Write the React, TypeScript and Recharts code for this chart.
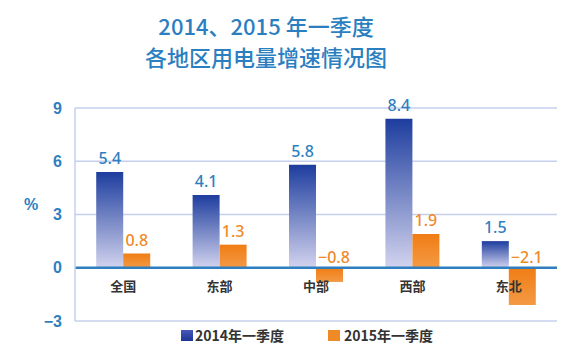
import React from 'react'
import {
  BarChart,
  Bar,
  XAxis,
  YAxis,
  CartesianGrid,
  ReferenceLine,
  LabelList,
} from 'recharts'

// 各地区用电量增速 (%)
const regions = ['全国', '东部', '中部', '西部', '东北']
const q1of2014 = [5.4, 4.1, 5.8, 8.4, 1.5]
const q1of2015 = [0.8, 1.3, -0.8, 1.9, -2.1]
const yTicks = [-3, 0, 3, 6, 9]
const seriesNames = ['2014年一季度', '2015年一季度']

const data = regions.map((name, i) => ({
  name,
  y2014: q1of2014[i],
  y2015: q1of2015[i],
}))

const BLUE_TEXT = '#2f7fc0'
const ORANGE_TEXT = '#ee8a2a'
const NUM_FONT = '"Liberation Sans", Arial, sans-serif'
const LABEL_FONT = '"Noto Sans", "Liberation Sans", sans-serif'
const CJK_FONT = '"Noto Sans CJK SC", "Noto Sans", sans-serif'

// 负数用长减号
const fmt = (v: number, digits = 1) => (v < 0 ? '\u2212' + Math.abs(v).toFixed(digits) : v.toFixed(digits))

function makeLabel(color: string) {
  return (props: any) => {
    const { x, y, width, height, value } = props
    const top = Math.min(y, y + height)
    const common = { fill: color, fontSize: 16, fontWeight: 500, fontFamily: LABEL_FONT }
    if (value < 0) {
      return (
        <text x={x + 2} y={top - 5} textAnchor='start' {...common}>
          {fmt(value)}
        </text>
      )
    }
    return (
      <text x={x + width / 2} y={top - 8} textAnchor='middle' {...common}>
        {fmt(value)}
      </text>
    )
  }
}

function RegionTick({ x, y, payload }: any) {
  return (
    <text x={x} y={y - 30} textAnchor='middle' fill='#333' fontSize={13} fontWeight={700} fontFamily={CJK_FONT}>
      {payload.value}
    </text>
  )
}

export default function App() {
  return (
    <div style={{ position: 'absolute', left: 0, top: 0, width: 582, height: 357, background: '#fff' }}>
      <div
        style={{
          position: 'absolute',
          left: 0,
          width: 532,
          top: 10,
          textAlign: 'center',
          color: '#2b7fc1',
          fontFamily: CJK_FONT,
          fontSize: 22,
          fontWeight: 500,
          lineHeight: '31px',
        }}
      >
        <div>2014、2015 年一季度</div>
        <div>各地区用电量增速情况图</div>
      </div>
      <BarChart
        width={582}
        height={357}
        data={data}
        margin={{ top: 108, right: 25, bottom: 0, left: 0 }}
        barCategoryGap='22%'
        barGap={0}
      >
        <defs>
          <linearGradient id='blueGrad' x1='0' y1='0' x2='0' y2='1'>
            <stop offset='0%' stopColor='#1d3d9e' />
            <stop offset='100%' stopColor='#d2d3ee' />
          </linearGradient>
          <linearGradient id='orangeGrad' x1='0' y1='0' x2='0' y2='1'>
            <stop offset='0%' stopColor='#f07d14' />
            <stop offset='100%' stopColor='#f49a45' />
          </linearGradient>
        </defs>
        <CartesianGrid vertical={false} stroke='#c6d0ee' strokeWidth={1.5} />
        <XAxis
          dataKey='name'
          height={36}
          axisLine={false}
          tickLine={false}
          tickSize={0}
          tickMargin={0}
          interval={0}
          tick={<RegionTick />}
        />
        <YAxis
          width={75}
          domain={[-3, 9]}
          ticks={yTicks}
          interval={0}
          axisLine={{ stroke: '#c6d0ee', strokeWidth: 1.5 }}
          tickLine={false}
          tickMargin={7}
          tickFormatter={(v: number) => fmt(v, 0)}
          tick={{ fill: BLUE_TEXT, fontSize: 16, fontWeight: 700, fontFamily: NUM_FONT }}
          label={{
            value: '%',
            position: 'insideLeft',
            offset: 24,
            dy: -10,
            fill: BLUE_TEXT,
            fontSize: 16,
            fontWeight: 700,
            fontFamily: NUM_FONT,
          }}
        />
        <ReferenceLine y={0} stroke='#2f7fc0' strokeWidth={2.5} />
        <Bar dataKey='y2014' name={seriesNames[0]} fill='url(#blueGrad)' isAnimationActive={false}>
          <LabelList dataKey='y2014' content={makeLabel(BLUE_TEXT)} />
        </Bar>
        <Bar dataKey='y2015' name={seriesNames[1]} fill='url(#orangeGrad)' isAnimationActive={false}>
          <LabelList dataKey='y2015' content={makeLabel(ORANGE_TEXT)} />
        </Bar>
      </BarChart>
      <div
        style={{
          position: 'absolute',
          top: 326,
          left: 181,
          display: 'flex',
          alignItems: 'center',
          fontFamily: CJK_FONT,
          fontSize: 14,
          fontWeight: 700,
          color: '#333',
          lineHeight: '18px',
        }}
      >
        <span style={{ display: 'inline-block', width: 12, height: 11, background: 'linear-gradient(#4758b8, #1d3596)', marginRight: 2 }} />
        <span style={{ marginRight: 44 }}>{seriesNames[0]}</span>
        <span style={{ display: 'inline-block', width: 12, height: 11, background: '#f08a25', marginRight: 4 }} />
        <span>{seriesNames[1]}</span>
      </div>
    </div>
  )
}
